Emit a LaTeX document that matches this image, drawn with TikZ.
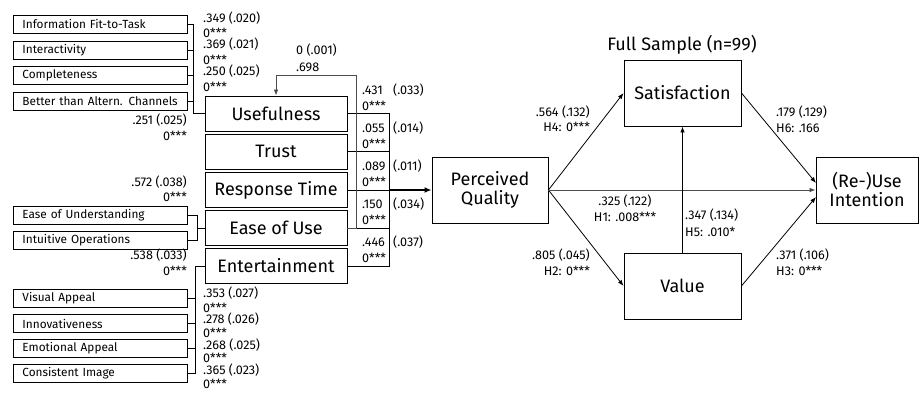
\documentclass[tikz,border=0pt]{standalone}
\usepackage{fontspec}
\setmainfont{Fira Sans}
\usetikzlibrary{arrows.meta}
\newcommand\labfont{\fontsize{12.6}{14}\selectfont}
\newcommand\indfont{\fontsize{11.8}{13}\selectfont}
\newcommand\boxfont{\fontsize{18}{21}\selectfont}
\begin{document}
\begin{tikzpicture}[x=1pt,y=-1pt,
  ind/.style={draw, line width=0.9pt, text width=156pt, inner xsep=9pt, inner ysep=0pt,
              minimum height=18pt, align=left, font=\indfont, anchor=west},
  fo/.style={draw, line width=0.9pt, minimum width=142pt, minimum height=35pt, inner sep=0pt, font=\boxfont},
  big/.style={draw, line width=0.9pt, minimum width=117pt, minimum height=66pt, inner sep=0pt,
              font=\boxfont, align=center},
  lab/.style={inner sep=0pt, font=\labfont},
  conn/.style={line width=0.9pt},
  arr/.style={line width=0.8pt, -{Latex[length=6pt,width=4.5pt]}},
  thickarr/.style={line width=1.8pt, -{Latex[length=7pt,width=6pt]}}
]
\useasboundingbox (0,0) rectangle (921,396);
\fill[white] (0,0) rectangle (921,396);

% indicator boxes
\node[ind] (ift) at (13,24) {Information Fit-to-Task};
\node[ind] (iac) at (13,50) {Interactivity};
\node[ind] (cmp) at (13,75) {Completeness};
\node[ind] (bac) at (13,101) {Better than Altern. Channels};
\node[ind] (eun) at (13,215) {Ease of Understanding};
\node[ind] (iop) at (13,240.5) {Intuitive Operations};
\node[ind] (vap) at (13,298.5) {Visual Appeal};
\node[ind] (inn) at (13,323.5) {Innovativeness};
\node[ind] (emo) at (13,348.5) {Emotional Appeal};
\node[ind] (cim) at (13,373.5) {Consistent Image};

% first-order constructs
\node[fo] (use) at (276,113.5) {Usefulness};
\node[fo] (tru) at (276,151.5) {Trust};
\node[fo] (rti) at (276,190) {Response Time};
\node[fo] (eou) at (276,228) {Ease of Use};
\node[fo] (ent) at (276,266) {Entertainment};

% right-hand constructs
\node[big, minimum width=116pt] (pq) at (490,190) {Perceived\\[-2pt]Quality};
\node[big] (sat) at (682.5,93) {Satisfaction};
\node[big] (val) at (682.5,286) {Value};
\node[big, minimum width=102pt] (rui) at (867,190) {(Re-)Use\\[-2pt]Intention};
\node[inner sep=0pt, font=\boxfont] (title) at (682,45) {Full Sample (n=99)};

% junctions
\coordinate (tj) at (193,113.5);
\coordinate (ej) at (197,228);
\coordinate (nj) at (195,266);
\coordinate (mj) at (389,190);
\coordinate (k1) at (356,75);
\coordinate (ru1) at (816,183);
\coordinate (ru3) at (816,197);

% brackets
\draw[conn] (ift.east) -| (tj);
\draw[conn] (iac.east) -| (tj);
\draw[conn] (cmp.east) -| (tj);
\draw[conn] (bac.east) -| (tj) -- (use.west);
\draw[conn] (eun.east) -| (ej);
\draw[conn] (iop.east) -| (ej);
\draw[conn] (ej) -- (eou.west);
\draw[conn] (vap.east) -| (nj);
\draw[conn] (inn.east) -| (nj);
\draw[conn] (emo.east) -| (nj);
\draw[conn] (cim.east) -| (nj) -- (ent.west);

\draw[conn] (use.east) -| (mj);
\draw[conn] (tru.east) -| (mj);
\draw[conn] (rti.east) -- (mj);
\draw[conn] (eou.east) -| (mj);
\draw[conn] (ent.east) -| (mj);
\draw[thickarr] (mj) -- (pq.west);

% ease of use -> usefulness
\draw[arr, draw=black!70] (eou.east) -| (k1) -| (use.north);

% structural paths
\draw[arr] (pq.east) -- (sat.west);
\draw[arr] (pq.east) -- (val.west);
\draw[arr, draw=black!70] (pq.east) -- (rui.west);
\draw[arr] (sat.east) -- (ru1);
\draw[arr] (val.east) -- (ru3);
\draw[arr] (val.north) -- (sat.south);

% indicator loadings (top group)
\node[lab, anchor=west] (l1a) at (203,18) {.349 (.020)};
\node[lab, anchor=west] (l1b) at (203,33) {0***};
\node[lab, anchor=west] (l2a) at (203,44) {.369 (.021)};
\node[lab, anchor=west] (l2b) at (203,59.5) {0***};
\node[lab, anchor=west] (l3a) at (203,71) {.250 (.025)};
\node[lab, anchor=west] (l3b) at (203,87) {0***};
\node[lab, anchor=east] (l4a) at (187,120) {.251 (.025)};
\node[lab, anchor=east] (l4b) at (187,136) {0***};
\node[lab, anchor=east] (l5a) at (187,182) {.572 (.038)};
\node[lab, anchor=east] (l5b) at (187,197) {0***};
\node[lab, anchor=east] (l6a) at (187,255) {.538 (.033)};
\node[lab, anchor=east] (l6b) at (187,271) {0***};
% entertainment group
\node[lab, anchor=west] (l7a) at (203,293) {.353 (.027)};
\node[lab, anchor=west] (l7b) at (203,308) {0***};
\node[lab, anchor=west] (l8a) at (203,319) {.278 (.026)};
\node[lab, anchor=west] (l8b) at (203,333) {0***};
\node[lab, anchor=west] (l9a) at (203,345) {.268 (.025)};
\node[lab, anchor=west] (l9b) at (203,358) {0***};
\node[lab, anchor=west] (l10a) at (203,370) {.365 (.023)};
\node[lab, anchor=west] (l10b) at (203,384) {0***};

% ease of use -> usefulness label
\node[lab, anchor=west] (eu1) at (296,50) {0 (.001)};
\node[lab, anchor=west] (eu2) at (296,67) {.698};

% first-order -> PQ labels
\node[lab, anchor=west] (m1a) at (362,90) {.431};
\node[lab, anchor=west] (m1s) at (393,90) {(.033)};
\node[lab, anchor=west] (m1b) at (362,106) {0***};
\node[lab, anchor=west] (m2a) at (362,128) {.055};
\node[lab, anchor=west] (m2s) at (393,128) {(.014)};
\node[lab, anchor=west] (m2b) at (362,144) {0***};
\node[lab, anchor=west] (m3a) at (362,166) {.089};
\node[lab, anchor=west] (m3s) at (393,166) {(.011)};
\node[lab, anchor=west] (m3b) at (362,182) {0***};
\node[lab, anchor=west] (m4a) at (362,204) {.150};
\node[lab, anchor=west] (m4s) at (393,204) {(.034)};
\node[lab, anchor=west] (m4b) at (362,220) {0***};
\node[lab, anchor=west] (m5a) at (362,242) {.446};
\node[lab, anchor=west] (m5s) at (393,242) {(.037)};
\node[lab, anchor=west] (m5b) at (362,258) {0***};

% structural labels
\node[lab, anchor=east] (h4a) at (590,112) {.564 (.132)};
\node[lab, anchor=east] (h4b) at (590,127) {H4: 0***};
\node[lab, anchor=east] (h2a) at (590,255) {.805 (.045)};
\node[lab, anchor=east] (h2b) at (590,271) {H2: 0***};
\node[lab] (h1a) at (625,201) {.325 (.122)};
\node[lab] (h1b) at (625,217) {H1: .008***};
\node[lab, anchor=west] (h5a) at (685,215) {.347 (.134)};
\node[lab, anchor=west] (h5b) at (685,232) {H5: .010*};
\node[lab, anchor=west] (h6a) at (776,112) {.179 (.129)};
\node[lab, anchor=west] (h6b) at (776,128) {H6: .166};
\node[lab, anchor=west] (h3a) at (776,255) {.371 (.106)};
\node[lab, anchor=west] (h3b) at (776,271) {H3: 0***};
\end{tikzpicture}
\end{document}
